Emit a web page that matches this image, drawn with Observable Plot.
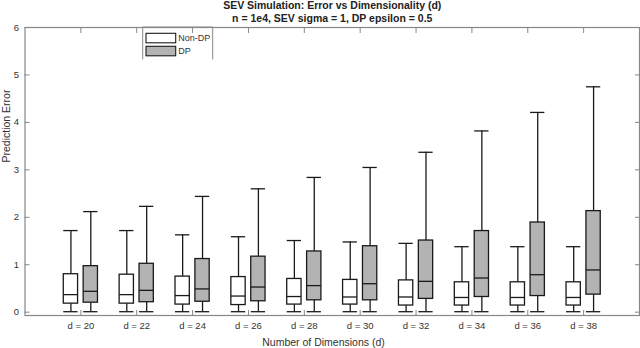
<!DOCTYPE html>
<html><head><meta charset="utf-8">
<script src="https://cdn.jsdelivr.net/npm/d3@7"></script>
<script src="https://cdn.jsdelivr.net/npm/@observablehq/plot@0.6"></script>
<style>body{margin:0;background:#fff;} svg{display:block}</style>
</head><body><div id="chart"></div>
<script>
const titleText = "SEV Simulation: Error vs Dimensionality (d)";
const subtitleText = "n = 1e4, SEV sigma = 1, DP epsilon = 0.5";
const xLabel = "Number of Dimensions (d)";
const yLabel = "Prediction Error";
const dims = [20, 22, 24, 26, 28, 30, 32, 34, 36, 38];
const yTicks = [0, 1, 2, 3, 4, 5, 6];
const groupNames = ["Non-DP", "DP"];

// Non-DP series
const nonLo  = [0.01, 0.01, 0.01, 0.01, 0.01, 0.01, 0.01, 0.01, 0.01, 0.01];
const nonQ1  = [0.18, 0.18, 0.16, 0.15, 0.16, 0.16, 0.14, 0.14, 0.14, 0.14];
const nonMed = [0.37, 0.37, 0.35, 0.34, 0.33, 0.32, 0.32, 0.31, 0.31, 0.31];
const nonQ3  = [0.80, 0.79, 0.75, 0.74, 0.70, 0.68, 0.67, 0.63, 0.63, 0.63];
const nonHi  = [1.72, 1.72, 1.63, 1.59, 1.51, 1.48, 1.45, 1.38, 1.38, 1.38];
// DP series
const dpLo  = [0.01, 0.01, 0.01, 0.01, 0.01, 0.01, 0.01, 0.01, 0.01, 0.01];
const dpQ1  = [0.20, 0.21, 0.22, 0.23, 0.25, 0.25, 0.28, 0.32, 0.34, 0.37];
const dpMed = [0.44, 0.46, 0.49, 0.53, 0.56, 0.60, 0.65, 0.72, 0.79, 0.89];
const dpQ3  = [0.97, 1.02, 1.12, 1.17, 1.28, 1.39, 1.51, 1.71, 1.89, 2.13];
const dpHi  = [2.12, 2.23, 2.44, 2.60, 2.84, 3.05, 3.37, 3.82, 4.21, 4.75];

const OFF = 0.178, HW = 0.128;
function rowsFor(g, lo, q1, med, q3, hi, off) {
  return dims.map((d, i) => ({i, g, cx: i + off, lo: lo[i], q1: q1[i], med: med[i], q3: q3[i], hi: hi[i]}));
}
const nonRows = rowsFor(groupNames[0], nonLo, nonQ1, nonMed, nonQ3, nonHi, -OFF);
const dpRows = rowsFor(groupNames[1], dpLo, dpQ1, dpMed, dpQ3, dpHi, OFF);

const FONT = '"Liberation Sans", Arial, Helvetica, sans-serif';
const EDGE = "#1a1a1a";
const SW = 1.3;

function boxMarks(rows, fill, edge) {
  return [
    Plot.ruleX(rows, {x: "cx", y1: "q3", y2: "hi", stroke: edge, strokeWidth: SW}),
    Plot.ruleX(rows, {x: "cx", y1: "lo", y2: "q1", stroke: edge, strokeWidth: SW}),
    Plot.ruleY(rows, {y: "hi", x1: d => d.cx - HW, x2: d => d.cx + HW, stroke: edge, strokeWidth: SW}),
    Plot.ruleY(rows, {y: "lo", x1: d => d.cx - HW, x2: d => d.cx + HW, stroke: edge, strokeWidth: SW}),
    Plot.rect(rows, {x1: d => d.cx - HW, x2: d => d.cx + HW, y1: "q1", y2: "q3", fill, stroke: edge, strokeWidth: SW}),
    Plot.ruleY(rows, {y: "med", x1: d => d.cx - HW, x2: d => d.cx + HW, stroke: edge, strokeWidth: SW})
  ];
}

const xTicks = d3.range(dims.length);

const chart = Plot.plot({
  width: 640,
  height: 348,
  marginLeft: 24.5,
  marginRight: 1,
  marginTop: 27,
  marginBottom: 33,
  style: {fontFamily: FONT, fontSize: "9.5px", color: "#333", background: "#fff"},
  x: {domain: [-1, 10]},
  y: {domain: [-0.07, 6]},
  marks: [
    ...boxMarks(nonRows, "#fff", EDGE),
    ...boxMarks(dpRows, "#b3b3b3", EDGE),
    Plot.frame({stroke: "#888", strokeWidth: 1.2}),
    Plot.axisY({ticks: yTicks, tickSize: -5, tickPadding: 11, tickFormat: d => String(d), label: null, stroke: "#888", fill: "#333", fontSize: 9.5}),
    Plot.axisY({anchor: "right", ticks: yTicks, tickSize: -5, tickFormat: () => "", label: null, stroke: "#888"}),
    Plot.axisX({ticks: xTicks, tickSize: -5, tickPadding: 12, tickFormat: i => "d = " + dims[i], label: null, stroke: "#888", fill: "#333", fontSize: 9.5}),
    Plot.axisX({anchor: "top", ticks: xTicks, tickSize: -5, tickFormat: () => "", label: null, stroke: "#888"}),
    Plot.text([titleText], {text: d => d, frameAnchor: "top", dy: -21.9, lineAnchor: "middle", fontWeight: "bold", fontSize: 10.5, fill: "#222"}),
    Plot.text([subtitleText], {text: d => d, frameAnchor: "top", dy: -8.7, lineAnchor: "middle", fontWeight: "bold", fontSize: 10.5, fill: "#222"}),
    Plot.text([xLabel], {text: d => d, frameAnchor: "bottom", dx: -8.75, dy: 26.7, lineAnchor: "middle", fontSize: 10.5, fill: "#333"}),
    Plot.text([yLabel], {text: d => d, frameAnchor: "left", dx: -18.5, dy: -9, rotate: -90, lineAnchor: "middle", fontSize: 10.5, fill: "#333"})
  ]
});

// legend
const svg = d3.select(chart);
const lg = svg.append("g").attr("font-family", FONT).attr("font-size", 9).attr("text-anchor", "start");
lg.append("path").attr("d", "M142.7,59.5V27H212.7V59.5").attr("fill", "none").attr("stroke", "#888");
const entries = [{name: groupNames[0], fill: "#fff", y: 33.3}, {name: groupNames[1], fill: "#b3b3b3", y: 46.3}];
entries.forEach(e => {
  lg.append("rect").attr("x", 146).attr("y", e.y).attr("width", 29.7).attr("height", 9.5)
    .attr("fill", e.fill).attr("stroke", EDGE).attr("stroke-width", 1.1);
  lg.append("text").attr("x", 178.3).attr("y", e.y + 4.75).attr("dy", "0.35em").attr("fill", "#333")
    .attr("text-anchor", "start").text(e.name);
});

document.getElementById("chart").appendChild(chart);
</script>
</body></html>
